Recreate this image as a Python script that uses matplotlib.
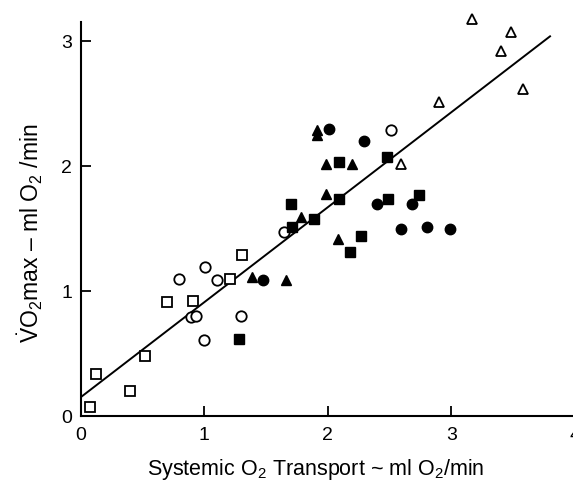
import matplotlib
matplotlib.use("Agg")
import matplotlib.pyplot as plt
import numpy as np

plt.rcParams['font.family'] = ['Liberation Sans', 'DejaVu Sans']
plt.rcParams['mathtext.fontset'] = 'custom'
plt.rcParams['mathtext.rm'] = 'Liberation Sans'
plt.rcParams['mathtext.it'] = 'Liberation Sans'

# Data (systemic O2 transport, VO2max)
open_sq_x = [0.075, 0.12, 0.40, 0.52, 0.70, 0.91, 1.21, 1.31]
open_sq_y = [0.074, 0.34, 0.20, 0.48, 0.91, 0.92, 1.10, 1.29]

open_ci_x = [0.80, 1.01, 1.10, 0.89, 0.93, 1.00, 1.30, 1.65, 2.51]
open_ci_y = [1.10, 1.19, 1.09, 0.79, 0.80, 0.61, 0.80, 1.47, 2.29]

fill_sq_x = [1.28, 2.09, 2.48, 2.09, 1.70, 1.89, 1.71, 2.49, 2.74, 2.27, 2.18]
fill_sq_y = [0.62, 2.03, 2.07, 1.74, 1.70, 1.58, 1.51, 1.74, 1.77, 1.44, 1.31]

fill_tr_x = [1.39, 1.91, 1.91, 1.99, 2.20, 1.99, 1.78, 2.08, 1.66]
fill_tr_y = [1.11, 2.29, 2.25, 2.02, 2.02, 1.78, 1.59, 1.42, 1.09]

fill_ci_x = [1.48, 2.01, 2.29, 2.40, 2.68, 2.59, 2.80, 2.99]
fill_ci_y = [1.09, 2.30, 2.20, 1.70, 1.70, 1.50, 1.51, 1.50]

open_tr_x = [2.59, 2.90, 3.17, 3.48, 3.40, 3.58]
open_tr_y = [2.02, 2.51, 3.18, 3.07, 2.92, 2.62]

fit_intercept = 0.15
fit_slope = 0.76
fit_x = [0.0, 3.8]

x_ticks = [0, 1, 2, 3, 4]
y_ticks = [0, 1, 2, 3]

fig = plt.figure(figsize=(5.73, 4.9), dpi=100)
ax = fig.add_axes([0.1408, 0.151, 0.873, 0.8047])

fx = np.array(fit_x)
ax.plot(fx, fit_intercept + fit_slope * fx, color='black', lw=1.4, zorder=2)

ms = 7
ax.plot(open_sq_x, open_sq_y, 's', ms=ms, mfc='white', mec='black', mew=1.3, ls='none', clip_on=False, zorder=3)
ax.plot(open_ci_x, open_ci_y, 'o', ms=ms + 0.5, mfc='white', mec='black', mew=1.3, ls='none', clip_on=False, zorder=3)
ax.plot(fill_sq_x, fill_sq_y, 's', ms=ms, mfc='black', mec='black', ls='none', clip_on=False, zorder=3)
ax.plot(fill_tr_x, fill_tr_y, '^', ms=ms + 0.5, mfc='black', mec='black', ls='none', clip_on=False, zorder=3)
ax.plot(fill_ci_x, fill_ci_y, 'o', ms=ms + 0.5, mfc='black', mec='black', ls='none', clip_on=False, zorder=3)
ax.plot(open_tr_x, open_tr_y, '^', ms=ms + 0.5, mfc='white', mec='black', mew=1.3, ls='none', clip_on=False, zorder=3)

ax.set_xlim(0, 4.05)
ax.set_ylim(0, 3.155)
ax.set_xticks(x_ticks)
ax.set_yticks(y_ticks)
ax.set_xticklabels([str(t) for t in x_ticks])
ax.set_yticklabels([str(t) for t in y_ticks])

for s in ['top', 'right']:
    ax.spines[s].set_visible(False)
for s in ['left', 'bottom']:
    ax.spines[s].set_linewidth(1.5)

ax.tick_params(axis='both', direction='in', length=7, width=1.3, labelsize=14)
ax.tick_params(axis='x', pad=8)
ax.tick_params(axis='y', pad=6)

ax.set_xlabel('Systemic O$_2$ Transport ~ ml O$_2$/min', fontsize=15.5)
ax.set_ylabel(r'$\dot{\mathrm{V}}\mathrm{O}_2$max \u2013 ml O$_2$ /min'.replace('\\u2013', '\u2013'), fontsize=16.5)
ax.xaxis.set_label_coords(0.469, -0.105)
ax.yaxis.set_label_coords(-0.071, 0.464)

fig.savefig('out.png', dpi=100)
